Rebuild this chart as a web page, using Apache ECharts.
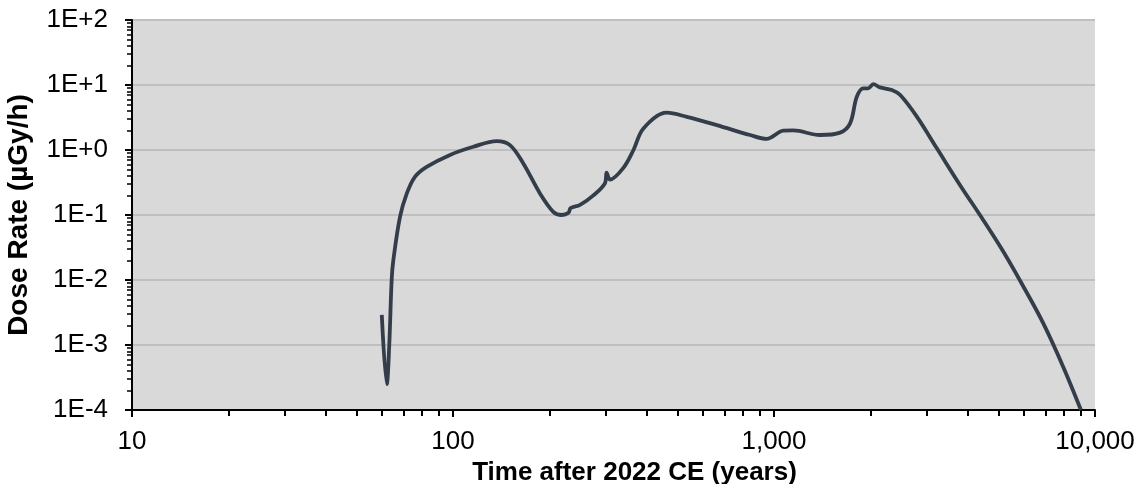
<!DOCTYPE html>
<html>
<head>
<meta charset="utf-8">
<script src="https://cdn.jsdelivr.net/npm/echarts@6/dist/echarts.min.js"></script>
<style>
  html, body { margin: 0; padding: 0; background: #fff; }
  #chart { width: 1145px; height: 484px; }
</style>
</head>
<body>
<div id="chart"></div>
<script>
// years after 2022 CE
let years = [
  60, 62.2, 63.3, 64.4, 65.2, 68.4, 71.8, 76.2, 82.8, 97.9,
  115.7, 136.8, 150.5, 165.6, 186.6, 205.3, 218.1, 229, 232.5, 248.8,
  273.7, 297.6, 301, 308.5, 339.5, 364.9, 392, 463, 535, 663,
  842, 949, 1069, 1149, 1390, 1606, 1726, 1811, 1898, 1967,
  2039, 2138, 2328, 2473, 2786, 3216, 3795, 4483, 5178,
  5980, 6902, 7963, 9040
]
// dose rate, uGy/h
let doseRate = [
  0.0029, 0.00025, 0.001, 0.01, 0.0204, 0.094, 0.215, 0.39, 0.55, 0.84,
  1.12, 1.37, 1.19, 0.62, 0.215, 0.112, 0.1, 0.108, 0.128, 0.143,
  0.2, 0.31, 0.45, 0.35, 0.53, 1.0, 2.15, 3.75, 3.24, 2.42,
  1.7, 1.48, 1.98, 2.0, 1.7, 1.85, 2.57, 6.6, 8.9, 8.9,
  10.3, 9.2, 8.38, 7.0, 3.26, 1.06, 0.29, 0.084, 0.0274,
  0.00795, 0.00215, 0.00046, 0.0001
]
let xTicks = [10, 100, 1000, 10000]
let yTicks = [1e-4, 1e-3, 1e-2, 1e-1, 1e0, 1e1, 1e2]

// 2..9 times each decade
function minorTicks (majors) {
  let list = []
  for (let i = 0; i < majors.length - 1; i++) {
    for (let k = 2; k < 10; k++) list.push(majors[i] * k)
  }
  return list
}

let font = "'Liberation Sans', Arial, sans-serif"
let chart = echarts.init(document.getElementById('chart'), null, { renderer: 'canvas' })

let nameStyle = { fontFamily: font, fontWeight: 'bold', color: '#000' }
let axisLine = { show: true, lineStyle: { color: '#000', width: 2 } }

chart.setOption({
  animation: false,
  grid: {
    left: 132,
    right: 50,
    top: 20,
    bottom: 74,
    outerBoundsMode: 'none',
    containLabel: false,
    show: true,
    backgroundColor: '#d9d9d9',
    borderWidth: 0
  },
  xAxis: [{
    type: 'log',
    min: 10,
    max: 10000,
    name: 'Time after 2022 CE (years)',
    nameLocation: 'middle',
    nameGap: 38,
    nameTextStyle: Object.assign({ fontSize: 26, padding: [0, 0, 0, 42] }, nameStyle),
    axisLine: axisLine,
    axisTick: { show: true, length: 7, customValues: xTicks, lineStyle: { color: '#000', width: 2 } },
    axisLabel: {
      customValues: xTicks,
      margin: 19,
      fontFamily: font,
      fontSize: 26,
      color: '#000',
      formatter: v => Number(v).toLocaleString('en-US')
    },
    splitLine: { show: false }
  }, {
    // minor ticks only
    type: 'log',
    min: 10,
    max: 10000,
    position: 'bottom',
    axisLine: { show: false },
    axisTick: { show: true, length: 6, customValues: minorTicks(xTicks), lineStyle: { color: '#000', width: 2 } },
    axisLabel: { show: false },
    splitLine: { show: false }
  }],
  yAxis: [{
    type: 'log',
    min: 1e-4,
    max: 100,
    name: 'Dose Rate (\u00b5Gy/h)',
    nameLocation: 'middle',
    nameGap: 99,
    nameTextStyle: Object.assign({ fontSize: 28 }, nameStyle),
    axisLine: axisLine,
    axisTick: { show: true, length: 7, customValues: yTicks, lineStyle: { color: '#000', width: 2 } },
    axisLabel: {
      customValues: yTicks,
      margin: 24,
      fontFamily: font,
      fontSize: 26,
      color: '#000',
      formatter: v => {
        let e = Math.round(Math.log10(v))
        return '1E' + (e >= 0 ? '+' : '-') + Math.abs(e)
      }
    },
    splitLine: { show: true, lineStyle: { color: '#bfbfbf', width: 2 } }
  }, {
    // minor ticks only
    type: 'log',
    min: 1e-4,
    max: 100,
    position: 'left',
    axisLine: { show: false },
    axisTick: { show: true, length: 5, customValues: minorTicks(yTicks), lineStyle: { color: '#000', width: 1.5 } },
    axisLabel: { show: false },
    splitLine: { show: false }
  }],
  series: [{
    type: 'line',
    xAxisIndex: 0,
    yAxisIndex: 0,
    data: years.map((x, i) => [x, doseRate[i]]),
    smooth: 0.35,
    showSymbol: false,
    symbol: 'none',
    lineStyle: { color: '#343e4a', width: 3.8 },
    clip: true
  }]
})
</script>
</body>
</html>
